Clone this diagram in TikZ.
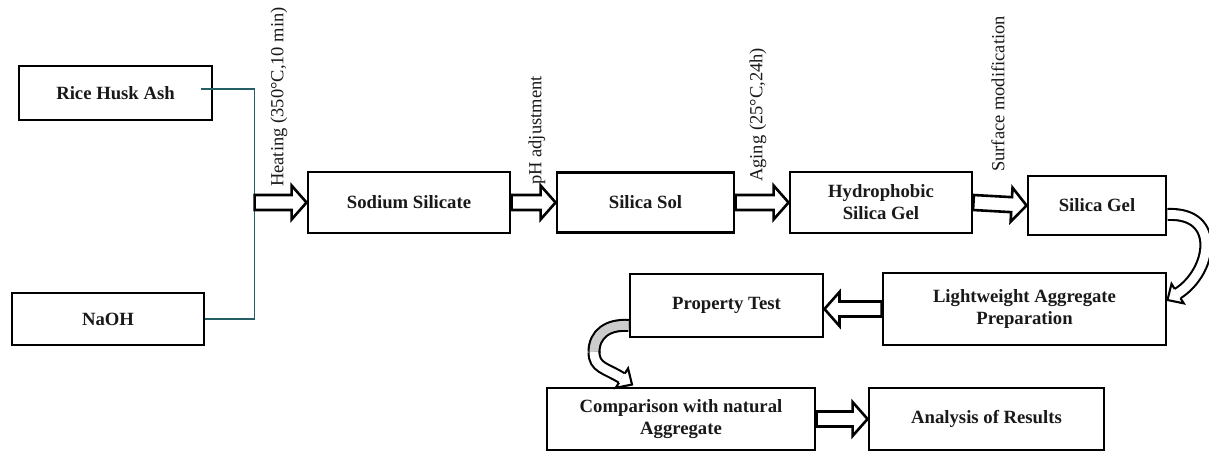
\documentclass[tikz,border=0pt]{standalone}
\usepackage{fontspec}
\setmainfont{Liberation Serif}
\usetikzlibrary{calc}
\definecolor{tealline}{RGB}{35,95,100}
\definecolor{boxtext}{RGB}{25,25,25}
\tikzset{
 box/.style={draw=black, line width=2.9pt, fill=white, align=center, inner sep=0pt, text=boxtext, font=\bfseries\fontsize{18.7}{22}\selectfont},
 lbl/.style={rotate=90, anchor=west, inner sep=0pt, font=\fontsize{18.5}{21}\selectfont, text=boxtext},
 barrow/.style={draw=black, line width=2.6pt, fill=white, line join=miter},
 band/.style={draw=black, line width=2.1pt, double=#1, double distance=8.8pt},
 band/.default=white,
 feed/.style={draw=tealline, line width=1.2pt},
}
\newcommand{\blockarrow}[2]{%
 \coordinate (bah) at ($(#2)!15pt!(#1)$);
 \draw[barrow] ($(#1)!7.5pt!90:(#2)$) -- ($(bah)!7.5pt!90:(#2)$) -- ($(bah)!17pt!90:(#2)$) -- (#2) -- ($(bah)!17pt!-90:(#2)$) -- ($(bah)!7.5pt!-90:(#2)$) -- ($(#1)!7.5pt!-90:(#2)$) -- cycle;}
\newcommand{\curvehead}[2]{%
 \coordinate (chh) at ($(#1)!12pt!(#2)$);
 \filldraw[draw=black, line width=2.1pt, fill=white, line join=miter] ($(chh)!5.45pt!90:(#1)$) -- ($(chh)!11.5pt!90:(#1)$) -- (#1) -- ($(chh)!11.5pt!-90:(#1)$) -- ($(chh)!5.45pt!-90:(#1)$);}
\begin{document}
\begin{tikzpicture}[x=1pt,y=-1pt]
\useasboundingbox[fill=white] (0,0) rectangle (1209,452);
% boxes
\node[box, minimum width=193pt, minimum height=54pt] (rha) at (115.5,93) {Rice Husk Ash};
\node[box, minimum width=192pt, minimum height=52pt] (naoh) at (108,319) {NaOH};
\node[box, minimum width=202pt, minimum height=61pt] (ss) at (409,202.5) {Sodium Silicate};
\node[box, minimum width=177pt, minimum height=60pt] (sol) at (645.5,202.5) {Silica Sol};
\node[box, minimum width=182pt, minimum height=61pt] (hsg) at (881,202.5) {Hydrophobic\\Silica Gel};
\node[box, minimum width=138pt, minimum height=59pt] (sg) at (1097,205.5) {Silica Gel};
\node[box, minimum width=283pt, minimum height=72pt] (lap) at (1024.5,309) {Lightweight Aggregate\\Preparation};
\node[box, minimum width=193pt, minimum height=63pt] (pt) at (726.5,305.5) {Property Test};
\node[box, minimum width=268pt, minimum height=62pt] (cmp) at (681,419) {Comparison with natural\\Aggregate};
\node[box, minimum width=235pt, minimum height=62pt] (ar) at (986.5,419) {Analysis of Results};
% feed lines
\path (ss.west) ++(-52,0) coordinate (bus);
\draw[feed] ([xshift=-12pt,yshift=4pt]rha.east) -| (bus);
\draw[feed] (naoh.east) -| (bus);
% straight block arrows
\blockarrow{bus}{ss.west}
\blockarrow{ss.east}{sol.west}
\blockarrow{sol.east}{hsg.west}
\blockarrow{hsg.east}{sg.west}
\coordinate (lapw) at (lap.west);
\coordinate (pte) at (lap.west -| pt.east);
\blockarrow{lapw}{pte}
\blockarrow{cmp.east}{ar.west}
% labels
\node[lbl] (l1) at (279,187) {Heating (350°C,10 min)};
\node[lbl] (l2) at (537,185) {pH adjustment};
\node[lbl] (l3) at (758,182) {Aging (25°C,24h)};
\node[lbl] (l4) at (998,172) {Surface modification};
% curved arrow 1: Silica Gel -> Lightweight
\coordinate (t1) at ([yshift=9pt]lap.east);
\coordinate (c1a) at (1222,212);
\coordinate (c1b) at (1212,272);
\coordinate (h1) at ($(t1)!12pt!(c1b)$);
\draw[band] ([yshift=-9pt]sg.east) .. controls (c1a) and (c1b) .. (h1);
\curvehead{t1}{c1b}
% curved arrow 2: Property Test -> Comparison
\coordinate (t2) at ([xshift=-49pt,yshift=2pt]cmp.north);
\coordinate (m2) at (594,352);
\coordinate (c2b) at (606,368);
\coordinate (h2) at ($(t2)!12pt!(c2b)$);
\draw[band=gray!40] ([yshift=-20pt]pt.west) .. controls (608,324) and (594,334) .. (m2);
\draw[band] (m2) .. controls (594,368) and (c2b) .. (h2);
\curvehead{t2}{c2b}
\end{tikzpicture}
\end{document}
